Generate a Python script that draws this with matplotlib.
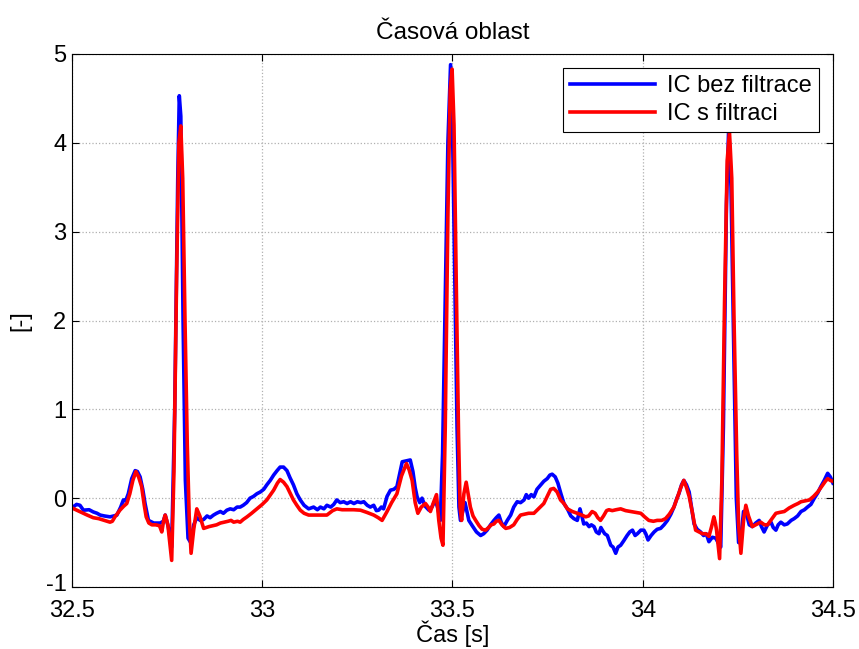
import matplotlib
matplotlib.use("Agg")
import matplotlib.pyplot as plt
import matplotlib.transforms as mtransforms
import numpy as np

# casova osa a hodnoty
t_raw = [32.500, 32.503, 32.512, 32.521, 32.530, 32.545, 32.556, 32.566, 32.574, 32.585,
         32.600, 32.610, 32.618, 32.628, 32.635, 32.641, 32.648, 32.657, 32.666, 32.672,
         32.679, 32.686, 32.692, 32.701, 32.715, 32.732, 32.740, 32.745, 32.753, 32.762,
         32.770, 32.778, 32.782, 32.786, 32.792, 32.798, 32.805, 32.812, 32.820, 32.828,
         32.837, 32.846, 32.855, 32.863, 32.872, 32.880, 32.890, 32.898, 32.907, 32.916,
         32.925, 32.934, 32.942, 32.950, 32.959, 32.968, 32.977, 32.986, 32.995, 33.004,
         33.012, 33.021, 33.030, 33.039, 33.047, 33.056, 33.065, 33.073, 33.082, 33.091,
         33.100, 33.110, 33.122, 33.135, 33.145, 33.153, 33.162, 33.170, 33.180, 33.188,
         33.196, 33.205, 33.214, 33.223, 33.232, 33.241, 33.250, 33.259, 33.267, 33.276,
         33.284, 33.293, 33.300, 33.306, 33.313, 33.319, 33.328, 33.337, 33.346, 33.354,
         33.361, 33.368, 33.378, 33.389, 33.396, 33.402, 33.407, 33.414, 33.420, 33.428,
         33.438, 33.446, 33.455, 33.462, 33.468, 33.474, 33.480, 33.488, 33.495, 33.500,
         33.506, 33.512, 33.517, 33.521, 33.533, 33.543, 33.552, 33.563, 33.574, 33.582,
         33.591, 33.600, 33.609, 33.615, 33.622, 33.628, 33.635, 33.644, 33.653, 33.661,
         33.670, 33.679, 33.688, 33.694, 33.700, 33.707, 33.714, 33.722, 33.732, 33.740,
         33.749, 33.756, 33.762, 33.770, 33.777, 33.785, 33.793, 33.802, 33.811, 33.819,
         33.828, 33.835, 33.840, 33.845, 33.852, 33.859, 33.865, 33.872, 33.878, 33.885,
         33.890, 33.894, 33.900, 33.907, 33.912, 33.916, 33.922, 33.929, 33.935, 33.942,
         33.950, 33.959, 33.966, 33.973, 33.980, 33.986, 33.995, 34.003, 34.008, 34.014,
         34.022, 34.030, 34.038, 34.047, 34.056, 34.065, 34.074, 34.082, 34.090, 34.095,
         34.102, 34.108, 34.115, 34.122, 34.128, 34.135, 34.143, 34.152, 34.160, 34.167,
         34.174, 34.183, 34.192, 34.198, 34.205, 34.212, 34.220, 34.226, 34.232, 34.240,
         34.246, 34.252, 34.258, 34.265, 34.271, 34.280, 34.288, 34.297, 34.306, 34.312,
         34.319, 34.328, 34.337, 34.343, 34.350, 34.356, 34.363, 34.372, 34.380, 34.390,
         34.398, 34.407, 34.416, 34.425, 34.433, 34.442, 34.451, 34.460, 34.468, 34.477,
         34.486, 34.493, 34.500]
v_raw = [-0.09, -0.10, -0.07, -0.08, -0.135, -0.13, -0.155, -0.17, -0.19, -0.20,
         -0.21, -0.20, -0.19, -0.10, -0.02, -0.03, 0.05, 0.22, 0.31, 0.30,
         0.24, 0.10, -0.06, -0.25, -0.28, -0.28, -0.26, -0.19, -0.32, -0.55,
         1.0, 3.6, 4.53, 4.3, 2.0, 0.2, -0.45, -0.50, -0.30, -0.22,
         -0.25, -0.24, -0.20, -0.22, -0.19, -0.17, -0.15, -0.17, -0.135, -0.12,
         -0.13, -0.10, -0.10, -0.08, -0.05, 0.00, 0.02, 0.05, 0.07, 0.10,
         0.15, 0.20, 0.26, 0.31, 0.35, 0.35, 0.31, 0.23, 0.15, 0.05,
         -0.02, -0.08, -0.12, -0.10, -0.13, -0.10, -0.12, -0.08, -0.10, -0.07,
         -0.02, -0.05, -0.04, -0.06, -0.04, -0.06, -0.04, -0.05, -0.04, -0.08,
         -0.10, -0.08, -0.14, -0.135, -0.10, -0.12, 0.02, 0.09, 0.10, 0.13,
         0.27, 0.41, 0.42, 0.43, 0.30, 0.12, 0.015, -0.05, 0.00, -0.09,
         -0.135, -0.10, -0.02, -0.12, -0.25, 0.5, 2.0, 4.0, 4.88, 4.2,
         2.5, 0.8, -0.10, -0.25, -0.05, -0.25, -0.31, -0.38, -0.42, -0.40,
         -0.36, -0.30, -0.25, -0.22, -0.19, -0.27, -0.32, -0.25, -0.19, -0.10,
         -0.04, -0.05, -0.02, 0.04, 0.00, 0.04, 0.015, 0.10, 0.15, 0.19,
         0.22, 0.26, 0.27, 0.24, 0.17, 0.05, -0.06, -0.12, -0.20, -0.23,
         -0.25, -0.12, -0.20, -0.29, -0.28, -0.32, -0.30, -0.32, -0.38, -0.40,
         -0.33, -0.36, -0.40, -0.42, -0.48, -0.53, -0.55, -0.62, -0.55, -0.53,
         -0.48, -0.42, -0.38, -0.36, -0.42, -0.40, -0.36, -0.36, -0.40, -0.47,
         -0.42, -0.38, -0.35, -0.34, -0.30, -0.25, -0.18, -0.10, 0.00, 0.05,
         0.15, 0.20, 0.15, 0.07, -0.10, -0.29, -0.35, -0.38, -0.42, -0.40,
         -0.49, -0.44, -0.45, -0.50, -0.55, 0.8, 3.3, 4.18, 3.5, 1.5,
         0.0, -0.50, -0.45, -0.15, -0.15, -0.30, -0.32, -0.28, -0.25, -0.32,
         -0.38, -0.30, -0.27, -0.33, -0.36, -0.30, -0.27, -0.30, -0.29, -0.25,
         -0.23, -0.20, -0.15, -0.13, -0.10, -0.07, 0.00, 0.06, 0.13, 0.20,
         0.28, 0.24, 0.17]

t_filt = [32.500, 32.510, 32.525, 32.540, 32.556, 32.570, 32.585, 32.600, 32.606, 32.613,
          32.626, 32.636, 32.644, 32.652, 32.660, 32.668, 32.675, 32.683, 32.690, 32.695,
          32.702, 32.710, 32.720, 32.730, 32.736, 32.741, 32.745, 32.749, 32.752, 32.757,
          32.762, 32.768, 32.775, 32.781, 32.786, 32.791, 32.797, 32.803, 32.808, 32.813,
          32.820, 32.828, 32.836, 32.846, 32.860, 32.870, 32.880, 32.890, 32.900, 32.910,
          32.918, 32.925, 32.935, 32.942, 32.950, 32.960, 32.972, 32.986, 33.000, 33.012,
          33.022, 33.030, 33.040, 33.047, 33.056, 33.065, 33.074, 33.082, 33.091, 33.100,
          33.110, 33.122, 33.135, 33.150, 33.170, 33.185, 33.196, 33.210, 33.225, 33.240,
          33.258, 33.275, 33.293, 33.305, 33.315, 33.328, 33.340, 33.354, 33.366, 33.379,
          33.386, 33.394, 33.402, 33.409, 33.418, 33.429, 33.436, 33.442, 33.450, 33.458,
          33.464, 33.470, 33.475, 33.481, 33.488, 33.494, 33.499, 33.504, 33.510, 33.516,
          33.520, 33.524, 33.530, 33.536, 33.541, 33.547, 33.554, 33.561, 33.570, 33.578,
          33.587, 33.595, 33.602, 33.609, 33.615, 33.622, 33.630, 33.640, 33.650, 33.661,
          33.670, 33.679, 33.690, 33.700, 33.714, 33.726, 33.740, 33.750, 33.758, 33.766,
          33.775, 33.784, 33.793, 33.802, 33.815, 33.828, 33.840, 33.850, 33.858, 33.867,
          33.875, 33.882, 33.889, 33.897, 33.905, 33.911, 33.920, 33.930, 33.942, 33.955,
          33.968, 33.982, 33.995, 34.005, 34.016, 34.028, 34.038, 34.050, 34.060, 34.070,
          34.082, 34.092, 34.100, 34.108, 34.115, 34.122, 34.130, 34.139, 34.148, 34.157,
          34.166, 34.174, 34.181, 34.187, 34.191, 34.194, 34.202, 34.208, 34.215, 34.222,
          34.228, 34.234, 34.240, 34.247, 34.252, 34.258, 34.265, 34.271, 34.278, 34.288,
          34.297, 34.310, 34.320, 34.328, 34.338, 34.350, 34.360, 34.372, 34.385, 34.398,
          34.408, 34.416, 34.427, 34.438, 34.449, 34.460, 34.470, 34.480, 34.486, 34.493,
          34.500]
v_filt = [-0.11, -0.13, -0.16, -0.19, -0.22, -0.23, -0.25, -0.27, -0.26, -0.21,
          -0.135, -0.09, -0.06, 0.05, 0.20, 0.30, 0.24, 0.13, -0.08, -0.21,
          -0.28, -0.30, -0.30, -0.31, -0.38, -0.25, -0.19, -0.25, -0.30, -0.50,
          -0.70, 0.3, 2.5, 4.0, 4.19, 3.6, 2.0, 0.6, -0.2, -0.62,
          -0.35, -0.12, -0.20, -0.34, -0.32, -0.31, -0.30, -0.28, -0.27, -0.26,
          -0.25, -0.27, -0.26, -0.27, -0.24, -0.21, -0.17, -0.12, -0.07, -0.02,
          0.04, 0.09, 0.17, 0.21, 0.18, 0.13, 0.05, -0.02, -0.08, -0.135,
          -0.17, -0.19, -0.19, -0.19, -0.19, -0.14, -0.12, -0.13, -0.13, -0.13,
          -0.135, -0.16, -0.19, -0.22, -0.25, -0.15, -0.05, 0.05, 0.25, 0.39,
          0.32, 0.20, -0.05, -0.17, -0.10, -0.06, -0.10, -0.15, -0.05, 0.04,
          -0.25, -0.45, -0.53, 0.8, 3.2, 4.6, 4.83, 4.2, 2.4, 0.7,
          -0.10, -0.25, 0.05, 0.18, 0.05, -0.10, -0.20, -0.25, -0.31, -0.35,
          -0.36, -0.33, -0.30, -0.29, -0.26, -0.25, -0.30, -0.34, -0.33, -0.30,
          -0.24, -0.19, -0.18, -0.17, -0.17, -0.12, -0.06, 0.03, 0.10, 0.11,
          0.07, -0.02, -0.06, -0.12, -0.15, -0.17, -0.19, -0.21, -0.20, -0.15,
          -0.17, -0.22, -0.25, -0.20, -0.14, -0.13, -0.14, -0.13, -0.12, -0.14,
          -0.15, -0.16, -0.17, -0.21, -0.25, -0.26, -0.25, -0.25, -0.23, -0.18,
          -0.10, 0.02, 0.12, 0.20, 0.12, 0.02, -0.15, -0.36, -0.38, -0.40,
          -0.40, -0.43, -0.32, -0.21, -0.28, -0.36, -0.68, 0.2, 2.2, 3.8,
          4.12, 3.6, 2.0, 0.5, -0.3, -0.62, -0.25, -0.08, -0.20, -0.32,
          -0.30, -0.27, -0.30, -0.30, -0.24, -0.17, -0.16, -0.15, -0.11, -0.08,
          -0.06, -0.04, -0.03, -0.02, 0.02, 0.07, 0.13, 0.19, 0.22, 0.20,
          0.19]

labels = ["IC bez filtrace", "IC s filtraci"]
x_ticks = [32.5, 33, 33.5, 34, 34.5]
y_ticks = [-1, 0, 1, 2, 3, 4, 5]

plt.rcParams['font.family'] = ['Liberation Sans', 'DejaVu Sans']
plt.rcParams['font.size'] = 17
plt.rcParams['axes.unicode_minus'] = False

fig = plt.figure(figsize=(8.59, 6.49), dpi=100)
ax = fig.add_axes([0.0838, 0.0955, 0.8859, 0.8213])

ax.plot(t_raw, v_raw, color='#0000ff', lw=2.6, label=labels[0])
ax.plot(t_filt, v_filt, color='#ff0000', lw=2.6, label=labels[1])

ax.set_xlim(32.5, 34.5)
ax.set_ylim(-1, 5)
ax.set_xticks(x_ticks)
ax.set_xticklabels(["32.5", "33", "33.5", "34", "34.5"])
ax.set_yticks(y_ticks)
ax.grid(True, linestyle=':', color='#b0b0b0', lw=0.9)
ax.tick_params(direction='in', top=True, right=True, length=5)
ax.tick_params(axis='x', pad=9)
ax.tick_params(axis='y', pad=4)

# "-1" lehce nahoru, aby se netloukl s "32.5"
lbl = ax.get_yticklabels()[0]
lbl.set_transform(lbl.get_transform() + mtransforms.ScaledTranslation(0, 3 / 72, fig.dpi_scale_trans))

ax.set_title("Časová oblast", fontsize=17.5, pad=11)
ax.set_xlabel("Čas [s]", labelpad=-1)
ax.set_ylabel("[-]", labelpad=10)

leg = ax.legend(loc='upper right', fancybox=False, edgecolor='black', framealpha=1,
                borderaxespad=0.6, handlelength=3.6, borderpad=0.3, labelspacing=0.25,
                handletextpad=0.5)
leg.get_frame().set_linewidth(0.8)

fig.savefig("out.png", dpi=100)
